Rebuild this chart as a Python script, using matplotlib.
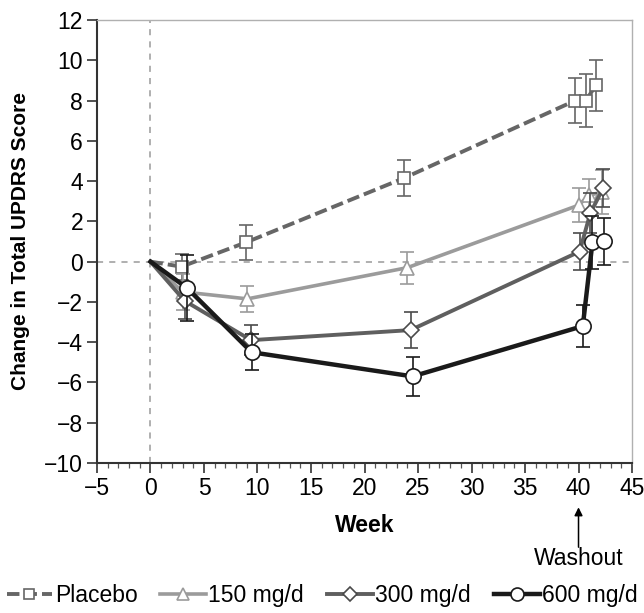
# Change in total UPDRS score by week, by treatment group
import matplotlib
matplotlib.use('Agg')
import matplotlib.pyplot as plt
from matplotlib.lines import Line2D
from matplotlib.ticker import MultipleLocator

plt.rcParams['font.family'] = ['Liberation Sans Narrow', 'Liberation Sans', 'DejaVu Sans']

# data (first point is baseline, no error bar)
weeks_placebo = [0, 2.9, 8.9, 23.7, 39.7, 40.7, 41.6]
placebo = [0, -0.25, 0.95, 4.15, 8.0, 8.0, 8.75]
placebo_err = [0, 0.65, 0.85, 0.9, 1.1, 1.3, 1.25]

weeks_150 = [0, 3.0, 9.05, 24.0, 40.0, 41.0, 42.2]
mg150 = [0, -1.5, -1.85, -0.3, 2.8, 3.3, 3.45]
mg150_err = [0, 0.9, 0.65, 0.8, 0.85, 0.8, 1.1]

weeks_300 = [0, 3.2, 9.4, 24.3, 40.1, 41.1, 42.3]
mg300 = [0, -1.95, -3.9, -3.4, 0.5, 2.4, 3.65]
mg300_err = [0, 0.9, 0.75, 0.9, 0.9, 1.0, 0.95]

weeks_600 = [0, 3.4, 9.45, 24.5, 40.4, 41.3, 42.4]
mg600 = [0, -1.3, -4.5, -5.7, -3.2, 0.95, 1.0]
mg600_err = [0, 1.65, 0.9, 0.95, 1.05, 1.3, 1.15]

labels = ['Placebo', '150 mg/d', '300 mg/d', '600 mg/d']

fig = plt.figure(figsize=(6.44, 6.13), dpi=100)
ax = fig.add_axes([0.1506, 0.2447, 0.8308, 0.7227])

# reference lines at zero
ax.axhline(0, color='#9a9a9a', lw=1.1, ls=(0, (4, 4)), zorder=1)
ax.axvline(0, color='#9a9a9a', lw=1.1, ls=(0, (4, 4)), zorder=1)

series = [
    (weeks_placebo, placebo, placebo_err, '#666666', '#666666', (0, (3.2, 1.3)), 's', 8.5, 2.8),
    (weeks_150, mg150, mg150_err, '#9b9b9b', '#9b9b9b', '-', '^', 10, 2.6),
    (weeks_300, mg300, mg300_err, '#5f5f5f', '#4a4a4a', '-', 'D', 8.5, 2.8),
    (weeks_600, mg600, mg600_err, '#1a1a1a', '#1a1a1a', '-', 'o', 11, 3.2),
]

handles = []
for i, (wk, val, err, lc, ec, ls, mk, ms, lw) in enumerate(series):
    z = 3 + i * 2
    ax.errorbar(wk[1:], val[1:], yerr=err[1:], fmt='none', ecolor=ec,
                elinewidth=1.2, capsize=5, capthick=1.2, zorder=z)
    ax.plot(wk, val, color=lc, ls=ls, lw=lw, marker=mk, ms=ms,
            markevery=list(range(1, len(wk))), mfc='white', mec=ec,
            mew=1.2, zorder=z + 1)
    handles.append(Line2D([], [], color=lc, ls=ls, lw=lw, marker=mk,
                          ms=ms * 0.85, mfc='white', mec=ec, mew=1.2))

ax.set_xlim(-5, 45)
ax.set_ylim(-10, 12)
ax.xaxis.set_minor_locator(MultipleLocator(1))
ax.set_xticks(range(-5, 46, 5))
ax.set_xticklabels([str(v).replace('-', '\u2212') for v in range(-5, 46, 5)])
ax.set_yticks(range(-10, 13, 2))
ax.set_yticklabels([str(v).replace('-', '\u2212') for v in range(-10, 13, 2)])

ax.tick_params(axis='both', which='major', direction='out', length=7,
               width=1.2, color='#333333', labelsize=16.5, pad=3)
ax.tick_params(axis='x', which='minor', direction='out', length=3.5,
               width=0.9, color='#555555')

for side in ['left', 'bottom']:
    ax.spines[side].set_color('#333333')
    ax.spines[side].set_linewidth(1.5)
for side in ['top', 'right']:
    ax.spines[side].set_color('#b0b0b0')
    ax.spines[side].set_linewidth(1.0)

ax.set_xlabel('Week', fontsize=16.5, fontweight='bold', labelpad=10)
ax.set_ylabel('Change in Total UPDRS Score', fontsize=15, fontweight='bold', labelpad=10)

# washout arrow under week 40
ax.annotate('', xy=(40, -0.1), xycoords=('data', 'axes fraction'),
            xytext=(40, -0.19), textcoords=('data', 'axes fraction'),
            arrowprops=dict(arrowstyle='-|>', color='black', lw=1.1,
                            mutation_scale=12, shrinkA=0, shrinkB=0))
ax.text(40, -0.215, 'Washout', transform=ax.get_xaxis_transform(),
        ha='center', va='center', fontsize=16.5)

fig.legend(handles, labels, loc='center', bbox_to_anchor=(0.5, 0.028),
           ncol=4, frameon=False, fontsize=16.5, handlelength=2.0,
           handletextpad=0.1, columnspacing=1.0, borderaxespad=0)

plt.savefig('out.png', dpi=100)
